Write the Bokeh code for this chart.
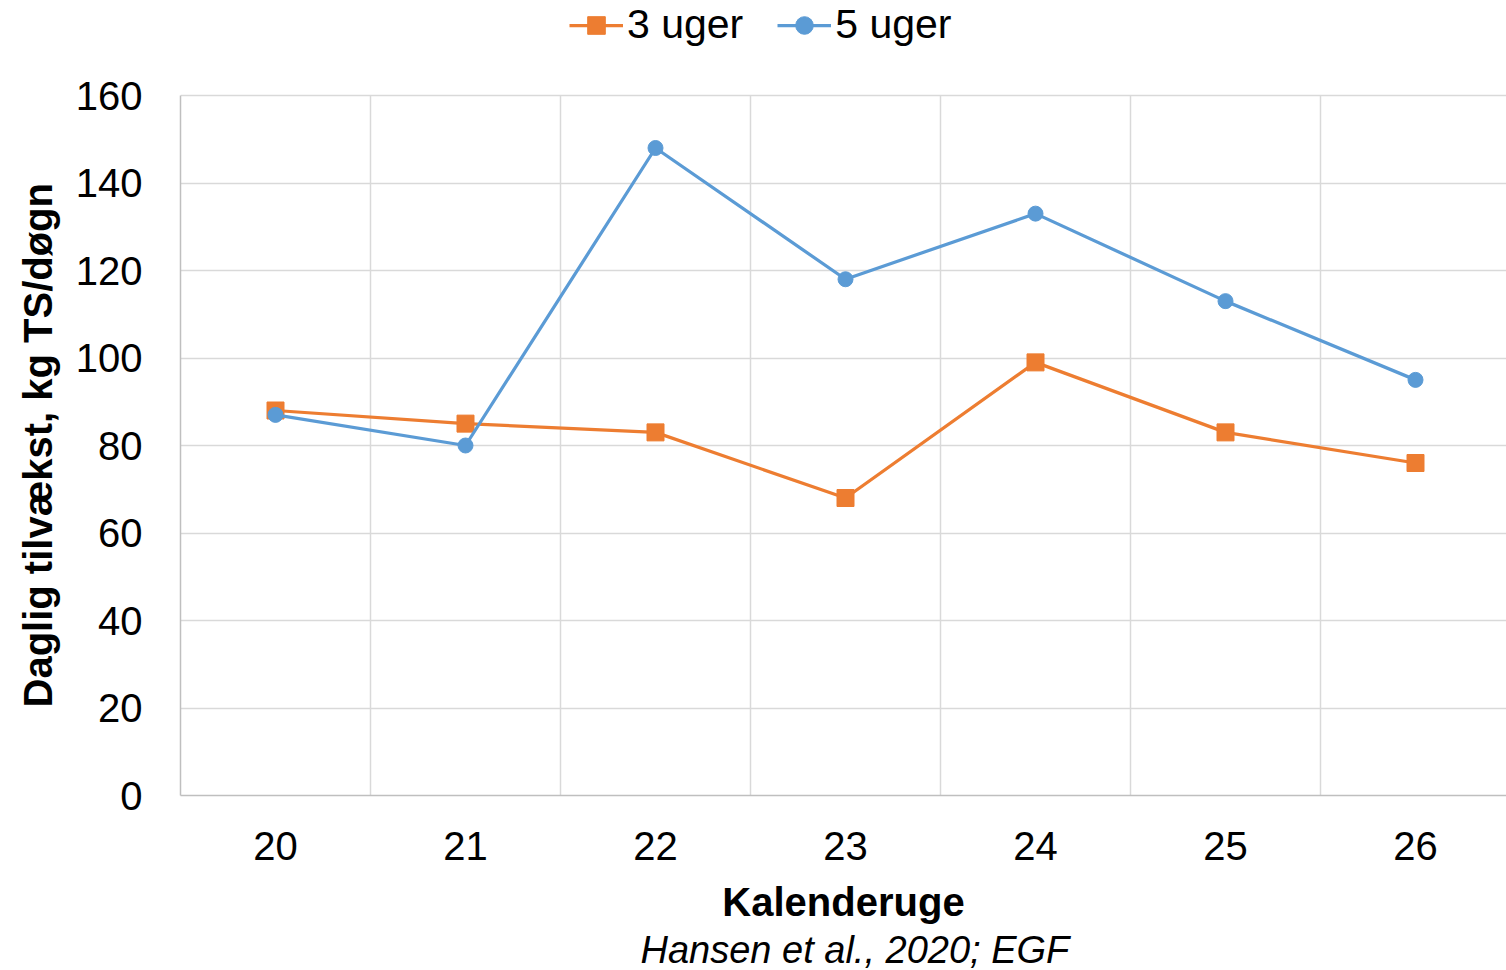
from bokeh.plotting import figure
from bokeh.models import Range1d, FixedTicker, Legend, LegendItem, Title
from bokeh.embed import file_html
from bokeh.resources import INLINE

# Calendar weeks and daily growth (kg TS per day) for two harvest intervals
weeks = [20, 21, 22, 23, 24, 25, 26]
uger3 = [88, 85, 83, 68, 99, 83, 76]
uger5 = [87, 80, 148, 118, 133, 113, 95]
y_ticks = [0, 20, 40, 60, 80, 100, 120, 140, 160]

ORANGE = "#ED7D31"
BLUE = "#5B9BD5"
GRID = "#d9d9d9"
FONT = "Liberation Sans"

FRAME_H = 795          # frame runs from the top of the page down to the x axis
PLOT_H = 700           # height taken by the 0..160 value span
y_max = y_ticks[-1]

p = figure(width=1506, height=970, output_backend="svg", toolbar_location=None,
           min_border_left=180, min_border_right=0, min_border_top=0,
           min_border_bottom=175)
p.x_range = Range1d(19.5, 19.5 + 1326 / 190)
# headroom above 160 leaves space for the legend row inside the frame
p.y_range = Range1d(0, y_max * FRAME_H / PLOT_H)
p.outline_line_color = None
p.background_fill_color = "white"
p.border_fill_color = "white"

# axes
p.xaxis.ticker = FixedTicker(ticks=weeks)
p.yaxis.ticker = FixedTicker(ticks=y_ticks)
p.yaxis.bounds = (0, y_max)
for ax in (p.xaxis[0], p.yaxis[0]):
    ax.axis_line_color = "#bfbfbf"
    ax.axis_line_width = 1.5
    ax.major_tick_line_color = None
    ax.minor_tick_line_color = None
    ax.major_label_text_font = FONT
    ax.major_label_text_font_size = "40px"
    ax.major_label_text_color = "black"
p.xaxis.major_label_standoff = 30
p.yaxis.major_label_standoff = 32
p.xaxis.axis_label = "Kalenderuge"
p.xaxis.axis_label_text_font = FONT
p.xaxis.axis_label_text_font_size = "40px"
p.xaxis.axis_label_text_font_style = "bold"
p.xaxis.axis_label_text_color = "black"
p.xaxis.axis_label_standoff = 17

# value-axis title, centred on the 0..160 span rather than the whole frame
ytitle = Title(text="Daglig tilvækst, kg TS/døgn", align="left", offset=88,
               text_font=FONT, text_font_size="40px", text_font_style="bold",
               text_color="black", standoff=26)
p.add_layout(ytitle, "left")

# grid: horizontal at value ticks, vertical between categories
p.xgrid.visible = False
p.ygrid.ticker = FixedTicker(ticks=y_ticks)
p.ygrid.grid_line_color = GRID
p.ygrid.grid_line_width = 1.5
edges = [w - 0.5 for w in weeks] + [weeks[-1] + 0.5]
p.segment(x0=edges[1:], y0=0, x1=edges[1:], y1=y_max,
          line_color=GRID, line_width=1.5, level="underlay")

# series
l3 = p.line(weeks, uger3, line_color=ORANGE, line_width=3.25)
s3 = p.scatter(weeks, uger3, marker="square", size=17, fill_color=ORANGE, line_color=ORANGE)
l5 = p.line(weeks, uger5, line_color=BLUE, line_width=3.25)
s5 = p.scatter(weeks, uger5, marker="circle", size=15, fill_color=BLUE, line_color=BLUE)

legend = Legend(items=[LegendItem(label="3 uger", renderers=[l3, s3]),
                       LegendItem(label="5 uger", renderers=[l5, s5])],
                orientation="horizontal", location=(389, 747),
                label_text_font=FONT, label_text_font_size="41px",
                label_text_color="black", glyph_width=54, glyph_height=44,
                label_standoff=4, spacing=34, padding=0, margin=0,
                border_line_alpha=0, background_fill_alpha=0)
p.add_layout(legend, "center")

source = Title(text="Hansen et al., 2020; EGF", align="left", offset=460,
               text_font=FONT, text_font_size="38px", text_font_style="italic",
               text_color="black", standoff=0)
p.add_layout(source, "below")

open("out.html", "w").write(file_html(p, INLINE))
